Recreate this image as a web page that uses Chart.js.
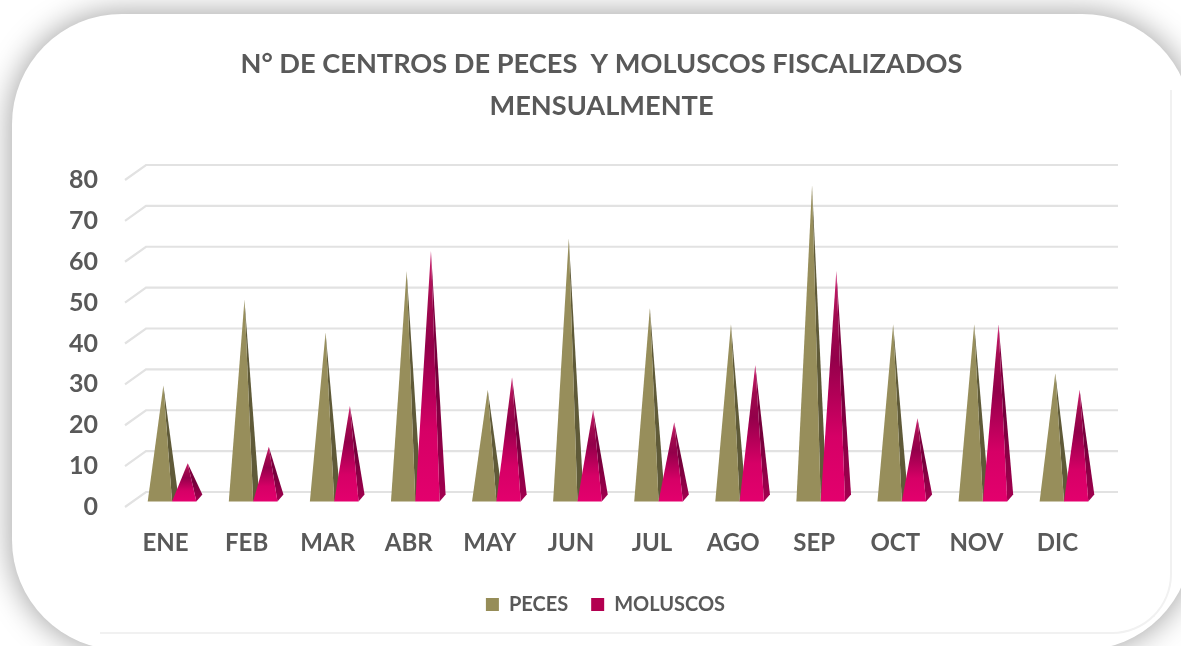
<!DOCTYPE html>
<html>
<head>
<meta charset="utf-8">
<script src="https://cdn.jsdelivr.net/npm/chart.js@4"></script>
<style>
html,body{margin:0;padding:0;width:1181px;height:646px;overflow:hidden;background:#fff}
#card{position:absolute;left:12px;top:14px;width:1180px;height:636px;border-radius:110px;background:#fff;box-shadow:0 0 30px 2px rgba(0,0,0,.36)}
#inner{position:absolute;left:100px;top:90px;width:1070px;height:542px;border-right:2px solid #f1f1f1;border-bottom:2px solid #f1f1f1;border-bottom-right-radius:60px;box-sizing:content-box}
#wrap{position:absolute;left:0;top:0;width:1181px;height:646px}
canvas{filter:blur(.45px)}
</style>
</head>
<body>
<div id="card"></div>
<div id="inner"></div>
<div id="wrap"><canvas id="c" width="1181" height="646"></canvas></div>
<script>
const categories = ['ENE','FEB','MAR','ABR','MAY','JUN','JUL','AGO','SEP','OCT','NOV','DIC'];
const peces    = [28,49,41,56,27,64,47,43,77,43,43,31];
const moluscos = [9,13,23,61,30,22,19,33,56,20,43,27];
const titleLines = ['N° DE CENTROS DE PECES  Y MOLUSCOS FISCALIZADOS','MENSUALMENTE'];
const textColor = '#595959';

function pyramid(ctx, el, value, yScale, style){
  const y0 = yScale.getPixelForValue(0);
  const half = el.width/2;
  const cx = el.x + 6.5;
  const fy = y0 - 5.5;
  const ax = cx + 3.5;
  const ay = yScale.getPixelForValue(value) - 7;
  const fl = cx - half, fr = cx + half;
  ctx.beginPath();
  ctx.moveTo(fr,fy); ctx.lineTo(fr+6,fy-7); ctx.lineTo(ax,ay); ctx.closePath();
  ctx.fillStyle = style.side(ctx, ay, fy);
  ctx.fill();
  ctx.beginPath();
  ctx.moveTo(fl,fy); ctx.lineTo(fr,fy); ctx.lineTo(ax,ay); ctx.closePath();
  ctx.fillStyle = style.front(ctx, ay, fy);
  ctx.fill();
}
const pecesStyle = {
  front:()=>'#978e5b',
  side:()=>'#5f5a38'
};
const moluscosStyle = {
  front:(ctx,a,b)=>{
    const g = ctx.createLinearGradient(0,b,0,a);
    g.addColorStop(0,'#e3006d');
    g.addColorStop(.28,'#d60066');
    g.addColorStop(.62,'#93004a');
    g.addColorStop(.8,'#a00a4e');
    g.addColorStop(1,'#d02070');
    return g;
  },
  side:(ctx,a,b)=>{
    const g = ctx.createLinearGradient(0,b,0,a);
    g.addColorStop(0,'#a30050');
    g.addColorStop(.5,'#74003a');
    g.addColorStop(1,'#8a0044');
    return g;
  }
};

const pyramids = {
  id:'pyramids',
  afterLayout(chart){
    chart.legend.left += 4;
    chart.legend.right += 4;
  },
  beforeDatasetsDraw(chart){
    const {ctx, scales:{y}, chartArea:a} = chart;
    ctx.save();
    ctx.strokeStyle = '#e2e2e2';
    ctx.lineWidth = 2.2;
    y.ticks.forEach((t,i)=>{
      const py = y.getPixelForTick(i);
      ctx.beginPath();
      ctx.moveTo(a.left, py);
      ctx.lineTo(a.left+21, py-15);
      ctx.lineTo(a.right+20, py-15);
      ctx.stroke();
    });
    ctx.restore();
  },
  beforeDatasetDraw(){ return false; },
  afterDatasetsDraw(chart){
    const {ctx, scales:{y}} = chart;
    ctx.save();
    [pecesStyle, moluscosStyle].forEach((st,di)=>{
      const meta = chart.getDatasetMeta(di);
      meta.data.forEach((el,i)=>pyramid(ctx, el, chart.data.datasets[di].data[i], y, st));
    });
    ctx.restore();
  }
};

new Chart(document.getElementById('c'),{
  type:'bar',
  data:{labels:categories,datasets:[
    {label:'PECES',data:peces,backgroundColor:'#968d58',categoryPercentage:.6,barPercentage:1},
    {label:'MOLUSCOS',data:moluscos,backgroundColor:'#b30050',categoryPercentage:.6,barPercentage:1}
  ]},
  plugins:[pyramids],
  options:{
    responsive:false,animation:false,
    layout:{padding:{left:22,right:0,top:0,bottom:21.5}},
    plugins:{
      tooltip:{enabled:false},
      title:{display:true,text:titleLines,color:textColor,
        font:{family:'Lato',weight:'bold',size:27.2,lineHeight:1.544},
        padding:{top:43,bottom:53}},
      legend:{position:'bottom',
        labels:{color:textColor,boxWidth:13,boxHeight:13,padding:23,
          font:{family:'Lato',weight:'bold',size:20}}}
    },
    scales:{
      x:{
        afterFit(s){s.height=64.5;},
        grid:{display:false,drawTicks:false},border:{display:false},
        ticks:{color:textColor,padding:22,maxRotation:0,font:{family:'Lato',weight:'bold',size:24}}
      },
      y:{
        min:0,max:80,
        afterFit(s){s.width=103;},
        grid:{display:false,drawTicks:false},border:{display:false},
        ticks:{stepSize:10,color:textColor,padding:27,font:{family:'Lato',weight:'bold',size:25}}
      },
      spacer:{
        axis:'y',position:'right',display:true,min:0,max:80,
        afterFit(s){s.width=83;},
        grid:{display:false,drawTicks:false},border:{display:false},
        ticks:{display:false}
      }
    }
  }
});
</script>
</body>
</html>
